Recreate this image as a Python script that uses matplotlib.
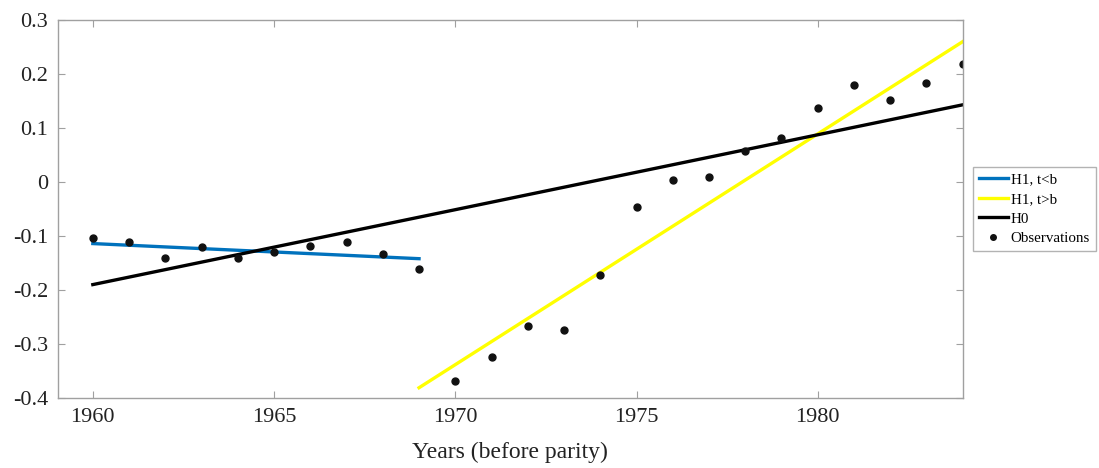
import matplotlib
matplotlib.use("Agg")
import matplotlib.pyplot as plt
import numpy as np

plt.rcParams['font.family'] = ['Liberation Serif', 'DejaVu Serif']
plt.rcParams['axes.unicode_minus'] = False

# observations
years = np.arange(1960, 1985)
obs = [-0.104, -0.112, -0.141, -0.121, -0.140, -0.130, -0.119, -0.111, -0.133, -0.161,
       -0.368, -0.325, -0.266, -0.275, -0.173, -0.047, 0.003, 0.009, 0.058, 0.081,
       0.138, 0.180, 0.151, 0.184, 0.219]

# fitted lines (end points)
h1_before_x = [1960, 1969]
h1_before_y = [-0.114, -0.142]
h1_after_x = [1969, 1984]
h1_after_y = [-0.381, 0.260]
h0_x = [1960, 1984]
h0_y = [-0.190, 0.143]

yticks = [-0.4, -0.3, -0.2, -0.1, 0, 0.1, 0.2, 0.3]
ytick_labels = ['-0.4', '-0.3', '-0.2', '-0.1', '0', '0.1', '0.2', '0.3']
xticks = [1960, 1965, 1970, 1975, 1980]

fig = plt.figure(figsize=(10.99, 4.68), dpi=100)
ax = fig.add_axes([0.0528, 0.1496, 0.8232, 0.8076])

ax.plot(h1_before_x, h1_before_y, color='#0072bd', lw=2.4, label='H1, t<b')
ax.plot(h1_after_x, h1_after_y, color='#ffff00', lw=2.4, label='H1, t>b')
ax.plot(h0_x, h0_y, color='black', lw=2.4, label='H0')
ax.plot(years, obs, 'o', color='#111111', ms=5, ls='none', label='Observations')

ax.set_xlim(1959.04, 1984)
ax.set_ylim(-0.4, 0.3)
ax.set_xticks(xticks)
ax.set_xticklabels([str(x) for x in xticks])
ax.set_yticks(yticks)
ax.set_yticklabels(ytick_labels)

for s in ax.spines.values():
    s.set_color('#a0a0a0')
    s.set_linewidth(1.0)
ax.tick_params(direction='in', length=5, width=0.8, color='#a0a0a0',
               top=True, right=True, labelsize=16, labelcolor='#222222', pad=7)

ax.set_xlabel('Years (before parity)', fontsize=17, color='#222222', labelpad=11)

leg = ax.legend(loc='upper left', bbox_to_anchor=(0.885, 0.643),
                bbox_transform=fig.transFigure, fontsize=10.8, frameon=True,
                fancybox=False, edgecolor='#a0a0a0', borderaxespad=0,
                handlelength=1.95, handletextpad=0.2, labelspacing=0.4,
                borderpad=0.4, markerscale=0.8)
leg.get_frame().set_linewidth(1.0)

fig.savefig('out.png', dpi=100)
